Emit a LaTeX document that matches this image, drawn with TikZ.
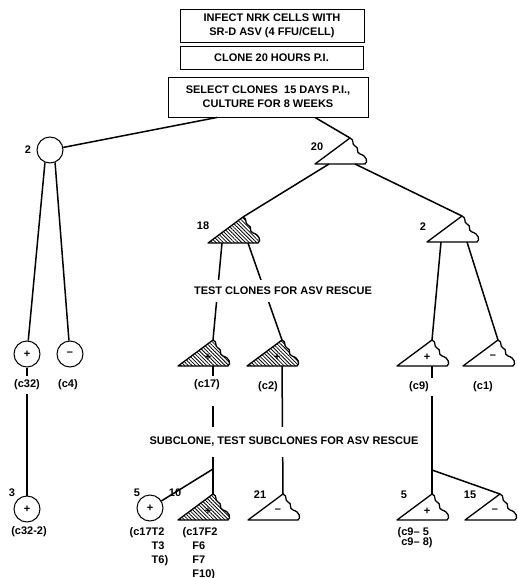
\documentclass[tikz,border=0pt]{standalone}
\usepackage{fontspec}
\setmainfont{Liberation Sans}
\usetikzlibrary{patterns.meta}

\begin{document}
\begin{tikzpicture}
[
	x=1pt,
	y=-1pt,
	every node/.style={font=\bfseries\fontsize{11}{14}\selectfont},
	line/.style={line width=1.5pt},
	stepbox/.style={draw,line width=0.9pt,inner sep=0pt,align=center},
	clonecirc/.style={circle,draw,line width=1pt,minimum size=26pt,inner sep=0pt},
	hatched/.style={pattern={Lines[angle=-45,distance=2.6pt,line width=0.8pt]}},
	num/.style={inner sep=1pt},
	cname/.style={inner xsep=1.5pt,inner ysep=4pt},
	sign/.style={inner sep=0pt},
	banner/.style={fill=white,inner xsep=2pt},
	clone/.pic={
		\draw[line width=1.3pt,line join=round,pic actions]
		  (0,0) .. controls (5,2) and (1,6) .. (5,8)
		        .. controls (10,10) and (5,14) .. (10,16)
		        .. controls (17,18) and (18,24) .. (15,26)
		  -- (-35,26) -- cycle;
		\coordinate (-apex) at (0,0);
		\coordinate (-l) at (-21,26);
		\coordinate (-r) at (5,26);
		\coordinate (-m) at (0,26);
		\coordinate (-sign) at (-5,17);
	}
]
	\useasboundingbox (0,0) rectangle (517,578);

	% boxes
	\node[stepbox,minimum width=184pt,minimum height=33pt] (infect) at (272,25.5) {INFECT NRK CELLS WITH\\SR-D ASV (4 FFU/CELL)};
	\node[stepbox,minimum width=183pt,minimum height=23pt] (clone) at (271.5,57.5) {CLONE 20 HOURS P.I.};
	\node[stepbox,minimum width=200pt,minimum height=40pt] (select) at (268,97) {SELECT CLONES\ \ 15 DAYS P.I.,\\CULTURE FOR 8 WEEKS};

	% clones
	\node[clonecirc] (w2) at (50,150) {};
	\pic (t20) at (350,138) {clone};
	\pic[hatched] (t18) at (243,217) {clone};
	\pic (t2) at (462,216) {clone};

	% tested clones
	\node[clonecirc] (c32) at (27,354) {+};
	\node[clonecirc] (c4) at (70,354) {--};
	\pic[hatched] (c17) at (213,340) {clone};
	\pic[hatched] (c2) at (282,340) {clone};
	\pic (c9) at (432,340) {clone};
	\pic (c1) at (498,340) {clone};

	% subclones
	\node[clonecirc] (c322) at (27,509) {+};
	\node[clonecirc] (t5) at (150,508) {+};
	\pic[hatched] (t10) at (213,494) {clone};
	\pic (t21) at (283,494) {clone};
	\pic (s5) at (432,494) {clone};
	\pic (s15) at (500,494) {clone};

	\foreach \t/\s in {c17/+,c2/+,c9/+,c1/--,t10/+,t21/--,s5/+,s15/--} {
		\node[sign] (sg-\t) at (\t-sign) {\s};
	}

	% counts
	\node[num] (n2) at (28,150) {2};
	\node[num] (n20) at (317,147) {20};
	\node[num] (n18) at (203,226) {18};
	\node[num] (n2b) at (423,227) {2};
	\node[num] (n3) at (12,493) {3};
	\node[num] (n5) at (137,493) {5};
	\node[num] (n10) at (175,493) {10};
	\node[num] (n21) at (260,495) {21};
	\node[num] (n5b) at (404,495) {5};
	\node[num] (n15) at (470,495) {15};

	% clone names
	\node[cname] (lc32) at (27,385) {(c32)};
	\node[cname] (lc4) at (68,385) {(c4)};
	\node[cname] (lc17) at (207,385) {(c17)};
	\node[cname] (lc2) at (268,387) {(c2)};
	\node[cname] (lc9) at (419,387) {(c9)};
	\node[cname] (lc1) at (483,387) {(c1)};
	\node[cname] (lc322) at (29,532) {(c32-2)};
	\node[cname,align=left,anchor=north west] (lt5) at (128,523) {(c17T2\\\hphantom{(c17}T3\\\hphantom{(c17}T6)};
	\node[cname,align=left,anchor=north west] (lt10) at (181,523) {(c17F2\\\hphantom{(c}F6\\\hphantom{(c}F7\\\hphantom{(c}F10)};
	\node[cname,align=left,anchor=north west] (ls5) at (396,523) {(c9-- 5\\[-4pt]\hphantom{(}c9-- 8)};

	% connectors
	\draw[line] ([xshift=-51pt]select.south) -- (w2);
	\draw[line] ([xshift=47pt]select.south) -- (t20-apex);
	\draw[line] (t20-l) -- (t18-apex);
	\draw[line] (t20-r) -- (t2-apex);
	\draw[line] (w2.-112) -- (c32);
	\draw[line] (w2.-68) -- (c4);
	\draw[line] (t18-l) -- (c17-apex);
	\draw[line] (t18-r) -- (c2-apex);
	\draw[line] (t2-l) -- (c9-apex);
	\draw[line] (t2-r) -- (c1-apex);

	\draw[line] (c32) -- (lc32);
	\draw[line] (lc32) -- (c322);
	\draw[line] (c17-m) -- (lc17.north -| c17-m);
	\draw[line,shorten <=12pt] (lc17.south -| c17-m) -- (t10-apex);
	\draw[line] (c2-m) -- (t21-apex);
	\draw[line] (c9-m) -- (lc9.north -| c9-m);
	\draw[line] (lc9.south -| c9-m) -- (s5-apex);
	\coordinate (b17) at (213,469);
	\coordinate (b9) at (432,470);
	\draw[line] (b17) -- (t5);
	\draw[line] (b9) -- (s15-apex);

	% test steps
	\node[banner,inner ysep=7pt] (test) at (283,291) {TEST CLONES FOR ASV RESCUE};
	\node[banner,inner ysep=10pt] (sub) at (284,442) {SUBCLONE, TEST SUBCLONES FOR ASV RESCUE};

\end{tikzpicture}
\end{document}
